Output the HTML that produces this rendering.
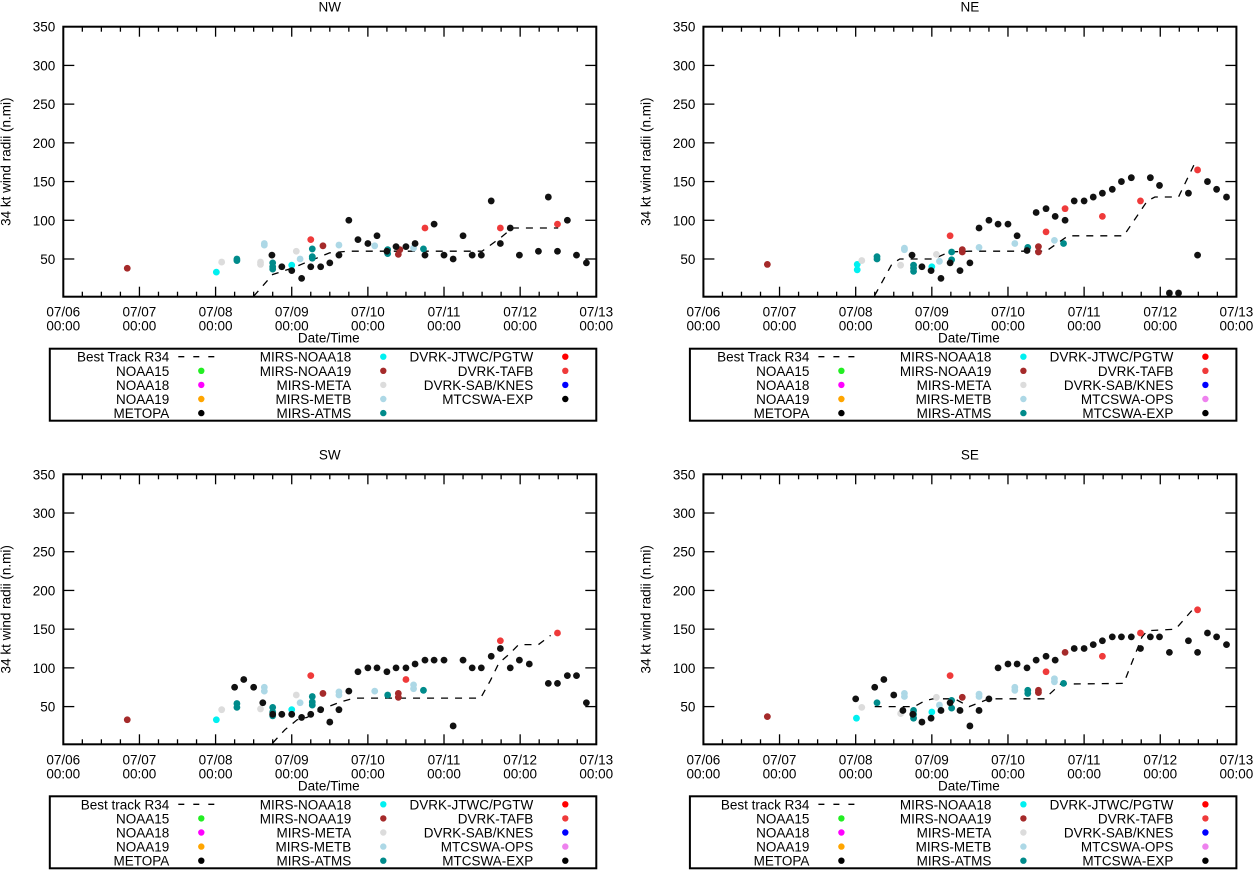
<!DOCTYPE html>
<html><head><meta charset="utf-8"><style>
html,body{margin:0;padding:0;background:#fff;}
svg{display:block;font-family:"Liberation Sans",sans-serif;}
</style></head><body>
<svg id="chart" width="1253" height="870" viewBox="0 0 1253 870" xmlns="http://www.w3.org/2000/svg"></svg>
<script>
const xTickTop = ["07/06","07/07","07/08","07/09","07/10","07/11","07/12","07/13"];
const xTickBottom = "00:00";
const yTicks = [50,100,150,200,250,300,350];

const NW_BEST = [[2.5,2],[2.75,30],[3.0,38],[3.25,48],[3.5,58],[3.75,60],[5.5,60],[5.75,78],[5.9,90],[6.5,90]];
const NW_NOAA18 = [[2.01,33],[3.0,42]];
const NW_NOAA19 = [[0.84,38],[3.41,67],[4.40,56],[4.42,62]];
const NW_META = [[2.08,46],[2.59,46],[2.59,43],[3.06,60]];
const NW_METB = [[2.64,70],[2.64,68],[3.11,50],[3.62,68],[4.09,67],[4.6,64]];
const NW_ATMS = [[2.28,50],[2.28,48],[2.75,45],[2.75,40],[2.75,37],[3.27,63],[3.27,53],[3.27,51],[4.26,62],[4.26,57],[4.73,63]];
const NW_TAFB = [[3.25,75],[4.75,90],[5.74,90],[6.49,95]];
const NW_EXP = [[2.74,55],[2.87,40],[3.0,35],[3.13,25],[3.25,40],[3.38,40],[3.5,45],[3.62,55],[3.75,100],[3.87,75],[4.0,70],[4.12,80],[4.25,60],[4.37,66],[4.5,66],[4.62,70],[4.75,55],[4.87,95],[5.0,55],[5.12,50],[5.25,80],[5.37,55],[5.49,55],[5.62,125],[5.74,70],[5.87,90],[5.99,55],[6.24,60],[6.37,130],[6.49,60],[6.62,100],[6.74,55],[6.87,45]];

const NE_BEST = [[2.25,3],[2.48,44],[2.58,50],[3.02,50],[3.23,59],[3.49,60],[4.5,60],[4.79,80],[5.52,80],[5.83,125],[5.93,130],[6.24,130],[6.45,173]];
const NE_NOAA18 = [[2.02,43],[2.02,36],[3.0,40]];
const NE_NOAA19 = [[0.84,43],[3.40,62],[3.40,59],[4.40,66],[4.40,59]];
const NE_META = [[2.08,48],[2.59,42],[3.06,56]];
const NE_METB = [[2.64,64],[2.64,62],[3.1,47],[3.62,65],[4.09,70],[4.61,74]];
const NE_ATMS = [[2.28,53],[2.28,50],[2.76,42],[2.76,38],[2.76,34],[3.26,59],[3.26,49],[4.26,65],[4.73,70]];
const NE_TAFB = [[3.24,80],[4.5,85],[4.75,115],[5.24,105],[5.74,125],[6.49,165]];
const NE_EXP = [[2.74,55],[2.87,40],[2.99,35],[3.12,25],[3.24,45],[3.37,35],[3.5,45],[3.62,90],[3.75,100],[3.87,95],[4.0,95],[4.12,80],[4.25,61],[4.37,110],[4.5,115],[4.62,105],[4.75,100],[4.87,125],[5.0,125],[5.12,130],[5.24,135],[5.37,140],[5.49,150],[5.62,155],[5.87,155],[5.99,145],[6.12,6],[6.24,6],[6.37,135],[6.49,55],[6.62,150],[6.74,140],[6.87,130]];

const SW_BEST = [[2.75,3],[2.91,20],[3.07,33],[3.2,36],[3.38,46],[3.64,56],[3.82,61],[5.48,61],[5.61,84],[5.72,106],[5.87,119],[5.98,130],[6.24,130],[6.4,142]];
const SW_NOAA18 = [[2.01,33],[3.0,46]];
const SW_NOAA19 = [[0.84,33],[3.41,67],[4.40,67],[4.40,62]];
const SW_META = [[2.08,46],[2.59,47],[3.06,65]];
const SW_METB = [[2.64,75],[2.64,70],[3.11,55],[3.62,69],[3.62,65],[4.09,70],[4.6,78],[4.6,73]];
const SW_ATMS = [[2.28,54],[2.28,49],[2.75,49],[2.75,43],[2.75,38],[3.27,63],[3.27,56],[3.27,52],[4.26,65],[4.73,71]];
const SW_TAFB = [[3.25,90],[4.5,85],[5.74,135],[6.49,145]];
const SW_EXP = [[2.25,75],[2.37,85],[2.5,75],[2.62,55],[2.75,40],[2.87,40],[3.0,40],[3.13,36],[3.25,40],[3.38,46],[3.5,30],[3.62,46],[3.75,70],[3.87,95],[4.0,100],[4.12,100],[4.25,95],[4.37,100],[4.5,100],[4.62,105],[4.75,110],[4.87,110],[5.0,110],[5.12,25],[5.25,110],[5.37,100],[5.49,100],[5.62,115],[5.74,125],[5.87,100],[5.99,110],[6.12,105],[6.37,80],[6.49,80],[6.62,90],[6.74,90],[6.87,55]];

const SE_BEST = [[2.25,50],[2.77,50],[2.92,58],[3.02,60],[3.3,60],[3.49,50],[3.65,56],[3.75,60],[4.48,60],[4.69,79],[5.52,80],[5.76,140],[5.83,148],[6.2,150],[6.45,178]];
const SE_NOAA18 = [[2.01,35],[3.0,43]];
const SE_NOAA19 = [[0.84,37],[3.40,62],[4.40,71],[4.40,68],[4.75,120]];
const SE_META = [[2.08,49],[2.59,41],[3.06,62]];
const SE_METB = [[2.64,67],[2.64,63],[3.1,52],[3.62,66],[3.62,63],[4.09,75],[4.09,71],[4.61,86],[4.61,82]];
const SE_ATMS = [[2.28,55],[2.76,45],[2.76,40],[2.76,35],[3.26,58],[3.26,48],[4.26,71],[4.26,67],[4.73,80]];
const SE_TAFB = [[3.24,90],[4.5,95],[5.24,115],[5.74,145],[6.49,175]];
const SE_EXP = [[2.0,60],[2.25,75],[2.37,85],[2.5,65],[2.62,45],[2.75,40],[2.87,30],[2.99,35],[3.12,45],[3.24,55],[3.37,45],[3.5,25],[3.62,45],[3.75,60],[3.87,100],[4.0,105],[4.12,105],[4.25,100],[4.37,110],[4.5,115],[4.62,110],[4.87,125],[5.0,125],[5.12,130],[5.24,135],[5.37,140],[5.49,140],[5.62,140],[5.74,125],[5.87,140],[5.99,140],[6.12,120],[6.37,135],[6.49,120],[6.62,145],[6.74,140],[6.87,130]];

const COLORS = {NOAA18:"#00f0f0",NOAA19:"#a52a2a",META:"#dcdcdc",METB:"#add8e6",ATMS:"#008b8b",TAFB:"#ef3a3a",EXP:"#111111"};
const FS = 13.5;

const svg = document.getElementById('chart');
const NS = "http://www.w3.org/2000/svg";
function mk(tag, attrs, parent){
  const e = document.createElementNS(NS, tag);
  for (const k in attrs) e.setAttribute(k, attrs[k]);
  (parent||svg).appendChild(e);
  return e;
}

const panels = [
  {id:"nw", title:"NW", ox:63.3, oy:26.7, best:"Best Track R34", ops:false, data:{best:NW_BEST,NOAA18:NW_NOAA18,NOAA19:NW_NOAA19,META:NW_META,METB:NW_METB,ATMS:NW_ATMS,TAFB:NW_TAFB,EXP:NW_EXP}},
  {id:"ne", title:"NE", ox:703.4, oy:26.7, best:"Best Track R34", ops:true, data:{best:NE_BEST,NOAA18:NE_NOAA18,NOAA19:NE_NOAA19,META:NE_META,METB:NE_METB,ATMS:NE_ATMS,TAFB:NE_TAFB,EXP:NE_EXP}},
  {id:"sw", title:"SW", ox:63.3, oy:474.3, best:"Best track R34", ops:true, data:{best:SW_BEST,NOAA18:SW_NOAA18,NOAA19:SW_NOAA19,META:SW_META,METB:SW_METB,ATMS:SW_ATMS,TAFB:SW_TAFB,EXP:SW_EXP}},
  {id:"se", title:"SE", ox:703.4, oy:474.3, best:"Best track R34", ops:true, data:{best:SE_BEST,NOAA18:SE_NOAA18,NOAA19:SE_NOAA19,META:SE_META,METB:SE_METB,ATMS:SE_ATMS,TAFB:SE_TAFB,EXP:SE_EXP}}
];

const W = 533, H = 270, PXV = 0.7743;

panels.forEach(p => {
  const g = mk('g', {});
  
  
  const X = d => p.ox + d * W / 7;
  const Y = v => p.oy + (350 - v) * PXV;
  const cx = p.ox + W/2;

  const t = mk('text', {x:cx, y:p.oy-15, 'text-anchor':'middle', 'font-size':FS}, g);
  t.textContent = p.title;
  
  

  for (let i = 0; i <= 28; i++) {
    const x = p.ox + i * W / 28;
    const len = (i % 4 === 0) ? 10 : 5;
    mk('line', {x1:x, y1:p.oy+H, x2:x, y2:p.oy+H-len, stroke:'#000','stroke-width':1.3}, g);
    mk('line', {x1:x, y1:p.oy, x2:x, y2:p.oy+len, stroke:'#000','stroke-width':1.3}, g);
  }
  xTickTop.forEach((lab, i) => {
    const x = X(i);
    const l1 = mk('text', {x:x, y:p.oy+H+20, 'text-anchor':'middle','font-size':FS}, g);
    l1.textContent = lab;
    
    
    const l2 = mk('text', {x:x, y:p.oy+H+34, 'text-anchor':'middle','font-size':FS}, g);
    l2.textContent = xTickBottom;
    
    
  });
  yTicks.forEach(v => {
    const y = Y(v);
    mk('line', {x1:p.ox, y1:y, x2:p.ox+11, y2:y, stroke:'#000','stroke-width':1.3}, g);
    mk('line', {x1:p.ox+W, y1:y, x2:p.ox+W-11, y2:y, stroke:'#000','stroke-width':1.3}, g);
    const l = mk('text', {x:p.ox-8, y:y+5, 'text-anchor':'end','font-size':FS}, g);
    l.textContent = v;
    
    
  });
  const xt = mk('text', {x:cx-1, y:p.oy+H+46, 'text-anchor':'middle','font-size':FS}, g);
  xt.textContent = 'Date/Time';
  
  
  const yt = mk('text', {x:0, y:0, 'text-anchor':'middle','font-size':FS, transform:`translate(${p.ox-53},${p.oy+135}) rotate(-90)`}, g);
  yt.textContent = '34 kt wind radii (n.mi)';
  
  

  const pts = p.data.best.map(d => X(d[0]).toFixed(1) + ',' + Y(d[1]).toFixed(1)).join(' ');
  const bl = mk('polyline', {points:pts, fill:'none', stroke:'#000','stroke-width':1.3,'stroke-dasharray':'7,7'}, g);
  
  

  ['NOAA18','NOAA19','META','METB','ATMS','TAFB','EXP'].forEach(key => {
    p.data[key].forEach(d => {
      const c = mk('circle', {cx:X(d[0]), cy:Y(d[1]), r:3.4, fill:COLORS[key]}, g);
      
      
    });
  });

  const fr = mk('rect', {x:p.ox, y:p.oy, width:W, height:H, fill:'none', stroke:'#000','stroke-width':2}, g);
  
  

  const lx = p.ox - 13.5, ly = p.oy + 322;
  const lg = mk('g', {}, g);
  
  
  mk('rect', {x:lx, y:ly, width:546.5, height:72, fill:'#fff', stroke:'#000','stroke-width':2}, lg);
  const rows = [0,1,2,3,4].map(i => ly + 8 + i*14.1);
  const col1 = [[p.best,null],['NOAA15','#22ee22'],['NOAA18','#ff00ff'],['NOAA19','#ffa500'],['METOPA','#000']];
  const col2 = [['MIRS-NOAA18',COLORS.NOAA18],['MIRS-NOAA19',COLORS.NOAA19],['MIRS-META',COLORS.META],['MIRS-METB',COLORS.METB],['MIRS-ATMS',COLORS.ATMS]];
  const col3 = p.ops ? [['DVRK-JTWC/PGTW','#ff0000'],['DVRK-TAFB',COLORS.TAFB],['DVRK-SAB/KNES','#0000ff'],['MTCSWA-OPS','#ee82ee'],['MTCSWA-EXP','#000']]
                     : [['DVRK-JTWC/PGTW','#ff0000'],['DVRK-TAFB',COLORS.TAFB],['DVRK-SAB/KNES','#0000ff'],['MTCSWA-EXP','#000']];
  const cols = [[col1, p.ox+106, p.ox+138], [col2, p.ox+288, p.ox+320], [col3, p.ox+470, p.ox+502]];
  cols.forEach(([items, tx, dx]) => {
    items.forEach((it, i) => {
      const y = rows[i];
      const tt = mk('text', {x:tx, y:y+5, 'text-anchor':'end','font-size':FS}, lg);
      tt.textContent = it[0];
      
      
      if (it[1] === null) {
        mk('line', {x1:dx-23, y1:y, x2:dx+15, y2:y, stroke:'#000','stroke-width':1.3,'stroke-dasharray':'6,9'}, lg);
      } else {
        mk('circle', {cx:dx, cy:y, r:3.2, fill:it[1]}, lg);
      }
    });
  });
});
</script>
</body></html>
